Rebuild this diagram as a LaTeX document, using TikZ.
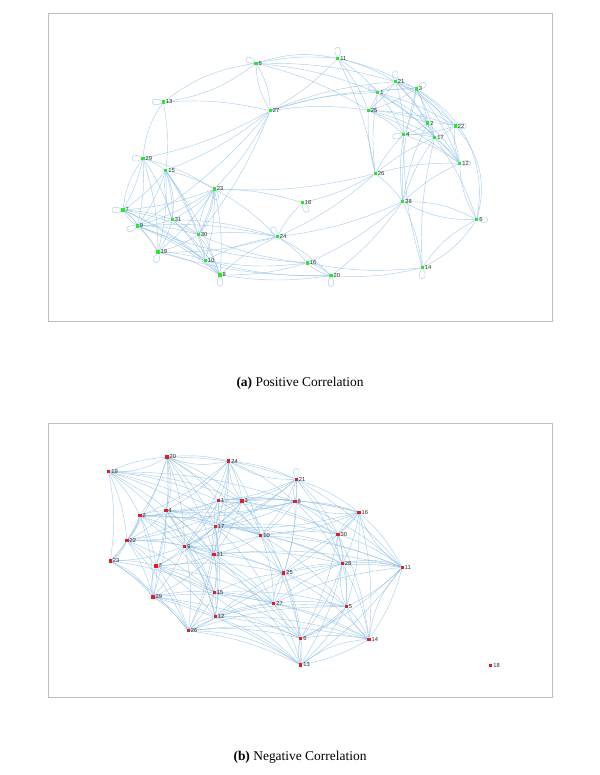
\documentclass[tikz,border=0pt]{standalone}
\usepackage{fontspec}
\setmainfont{Liberation Serif}
\newfontfamily\lblfont{Liberation Sans}
\usetikzlibrary{backgrounds}
\begin{document}
\begin{tikzpicture}[x=1bp,y=-1bp,
  edg/.style={draw={rgb,255:red,135;green,186;blue,228}, line width=0.45bp, opacity=0.7},
  gnode/.style={rectangle, fill={rgb,255:red,40;green,235;blue,40}, inner sep=0pt, minimum size=3.3bp},
  rnode/.style={rectangle, fill={rgb,255:red,232;green,28;blue,28}, inner sep=0pt, minimum size=3.3bp},
  lbl/.style={font=\lblfont\fontsize{5.8}{6}\selectfont, text={rgb,255:red,45;green,45;blue,45}, inner sep=0.6bp},
  panelframe/.style={draw={rgb,255:red,190;green,190;blue,190}, line width=0.9bp},
  captext/.style={font=\fontsize{13.5}{16}\selectfont, text=black}
]
\useasboundingbox (0,0) rectangle (600,775);
\draw[panelframe] (48,13) rectangle (552,321);
\draw[panelframe] (48,423) rectangle (552,697);

% ---------- top panel nodes ----------
\foreach \n/\x/\y in {1/377.7/92.7, 2/427.7/123, 3/416.3/89, 4/403.7/134.7, 5/256/63.3,
  6/476.7/219.7, 7/123/210, 8/220/275, 9/137.3/226, 10/205.3/260.3, 11/337.7/58.3,
  12/459.7/163.3, 13/163.3/102, 14/422.3/267.7, 15/165.7/170.5, 16/307.3/263,
  17/434.7/137.7, 18/302.3/202.7, 19/158/252, 20/331/275.7, 21/395.3/81.7,
  22/455.3/126, 23/214.3/189, 24/277.2/236.8, 25/368.3/110.3, 26/375.3/173.7,
  27/270.3/110.7, 28/402.7/201.7, 29/143/158.3, 30/198.3/234.7, 31/172.3/219.7}
  \node[gnode, label={[lbl]right:\n}] (a\n) at (\x,\y) {};

% ---------- bottom panel nodes ----------
\foreach \n/\x/\y in {1/218.3/500.7, 2/140/515.7, 3/242/501, 4/166/510.7, 5/346.3/606.7,
  6/300.7/638.3, 7/156/566, 8/295/501.7, 9/184.7/546.3, 10/260.7/535.3, 11/402.3/567.3,
  12/215.3/616.7, 13/300.7/665, 14/369/639.3, 15/214.3/592.7, 16/359/512.3,
  17/215.3/526.3, 18/490.7/665.3, 19/108.7/471.7, 20/167/457, 21/296.3/479.3,
  22/127/540.7, 23/110.3/561, 24/228.7/461, 25/283.7/573, 26/188.3/630.7,
  27/273.7/603.3, 28/342.3/563.7, 29/153/597, 30/338/534.3, 31/214/554.3}
  \node[rnode, label={[lbl]right:\n}] (b\n) at (\x,\y) {};

\begin{scope}[on background layer]
% ---------- top edges ----------
\foreach \u/\v in {5/11, 5/21, 5/1, 5/25, 13/27, 13/15, 11/27, 11/21, 11/3, 11/1, 11/26, 11/25,
  27/25, 27/1, 27/21, 27/3, 27/29, 27/23, 27/9, 27/30, 27/15,
  21/1, 21/3, 21/25, 21/2, 21/22, 21/4, 21/17, 1/3, 1/25, 1/2, 1/22, 1/4, 1/17, 1/12,
  3/25, 3/2, 3/22, 3/4, 3/17, 3/12, 25/2, 25/22, 25/4, 25/17, 25/12, 2/22, 2/4, 2/17, 2/12,
  22/4, 22/17, 4/17, 4/12, 17/12, 17/6,
  26/25, 26/4, 26/17, 26/12, 26/28, 26/23, 26/18, 26/24, 26/1,
  28/4, 28/17, 28/2, 28/12, 28/24, 28/16, 28/14, 28/20, 28/3,
  14/16, 14/20, 14/17, 14/4,
  29/15, 29/7, 29/9, 29/31, 29/19, 29/23, 15/23, 15/7, 15/31, 15/9, 15/30, 15/10, 15/8, 15/19,
  23/7, 23/31, 23/9, 23/30, 23/10, 23/8, 23/19, 23/24, 23/18,
  7/31, 7/30, 7/19, 7/10, 7/8, 31/9, 31/30, 31/19, 31/10, 31/8, 31/24,
  9/30, 9/19, 9/10, 9/8, 9/24, 30/19, 30/10, 30/8, 30/24, 19/10, 19/8, 10/8, 10/24, 8/24,
  24/16, 24/20, 24/18, 24/19, 16/10, 16/8, 16/30, 16/9, 20/8, 20/10, 20/19}
  \draw[edg] (a\u) to[bend left=8] (a\v);
\foreach \u/\v in {5/13, 5/27, 13/29, 28/6, 14/6, 7/9, 16/20, 12/6, 22/12, 29/7,
  15/31, 23/30, 2/17, 21/3, 11/5, 13/5, 27/5, 6/28, 6/14, 9/7, 20/16, 31/15, 30/23}
  \draw[edg] (a\u) to[bend right=14] (a\v);
\draw[edg] (a22) to[bend left=28] (a6);
\draw[edg] (a3) to[bend left=35] (a6);
\draw[edg] (a21) to[bend left=30] (a12);
% top loops
\foreach \n/\o/\i in {5/185/125, 13/210/150, 29/210/150, 7/210/150, 9/230/170, 19/290/230,
  8/300/240, 24/150/90, 20/300/240, 14/300/240, 18/330/270, 6/30/-30, 12/30/-30,
  22/30/-30, 4/220/160, 3/60/0, 21/120/60, 11/120/60, 1/180/120, 2/160/100, 23/310/250}
  \draw[edg] (a\n) to[out=\o, in=\i, looseness=12, min distance=14bp] (a\n);

% ---------- bottom edges ----------
\foreach \u/\v in {19/20, 19/1, 19/3, 19/8, 19/17, 19/2, 19/22, 19/9, 19/10, 19/31, 19/23,
  20/24, 20/1, 20/3, 20/2, 20/4, 20/17, 20/9, 20/22, 20/31, 20/7, 20/21, 20/10,
  24/1, 24/3, 24/4, 24/17, 24/21, 24/8, 24/9, 24/10, 24/2, 24/31,
  21/1, 21/3, 21/8, 21/16, 21/17, 21/10, 21/30, 21/28, 21/11, 21/25, 21/9,
  1/3, 1/8, 1/16, 1/4, 1/17, 1/2, 1/9, 1/10, 1/31, 1/30, 1/22,
  3/8, 3/16, 3/17, 3/4, 3/10, 3/9, 3/31, 3/30, 3/25, 3/22,
  8/16, 8/17, 8/10, 8/30, 8/28, 8/11, 8/4, 8/25, 8/2,
  16/30, 16/28, 16/11, 16/10, 16/17, 16/5, 16/25, 16/14,
  2/4, 2/22, 2/9, 2/17, 2/7, 2/23, 2/31, 2/29, 2/15, 2/10,
  4/22, 4/9, 4/17, 4/7, 4/31, 4/15, 4/12, 4/29, 4/10,
  17/9, 17/31, 17/10, 17/22, 17/7, 17/15, 17/25, 17/30, 17/28, 17/11, 17/12, 17/26, 17/27,
  10/9, 10/31, 10/25, 10/30, 10/28, 10/11, 10/6, 10/27, 10/5,
  22/9, 22/23, 22/7, 22/31, 22/29, 22/26, 22/15,
  9/31, 9/7, 9/15, 9/12, 9/29, 9/26, 9/25, 9/27, 9/6, 9/23,
  31/7, 31/15, 31/12, 31/25, 31/27, 31/28, 31/11, 31/26, 31/29, 31/13,
  23/7, 23/29, 23/26, 23/15,
  7/29, 7/15, 7/12, 7/26, 7/25, 7/27, 7/13,
  29/15, 29/12, 29/26, 29/27, 29/13, 29/6,
  15/12, 15/26, 15/27, 15/25, 15/6, 15/5, 15/14,
  12/26, 12/27, 12/6, 12/5, 12/14, 12/25, 12/13, 12/28,
  26/27, 26/6, 26/13, 26/14, 26/5,
  25/27, 25/28, 25/5, 25/6, 25/13, 25/30, 25/11, 25/14,
  27/5, 27/6, 27/13, 27/14, 27/28, 27/11,
  30/28, 30/11, 30/5, 30/14, 30/6, 28/11, 28/5, 28/6, 28/14, 28/13,
  11/5, 11/14, 11/13, 11/6, 5/6, 5/14, 5/13, 6/13, 6/14, 14/13}
  \draw[edg] (b\u) to[bend left=9] (b\v);
\foreach \u/\v in {19/20, 20/24, 1/3, 3/8, 8/16, 16/11, 11/14, 14/13, 13/26, 26/29,
  29/23, 22/2, 2/4, 4/20, 24/21, 21/8, 17/31, 9/31, 5/14, 6/13, 6/5, 28/5, 30/28,
  12/26, 15/12, 7/29, 24/3, 1/17, 25/27, 16/30, 11/28, 23/22}
  \draw[edg] (b\u) to[bend right=16] (b\v);
\draw[edg] (b21) to[out=120, in=60, looseness=12, min distance=14bp] (b21);
\end{scope}

% ---------- captions ----------
\node[captext] (capa) at (300,383) {\textbf{(a)} Positive Correlation};
\node[captext] (capb) at (300,757) {\textbf{(b)} Negative Correlation};
\end{tikzpicture}
\end{document}
